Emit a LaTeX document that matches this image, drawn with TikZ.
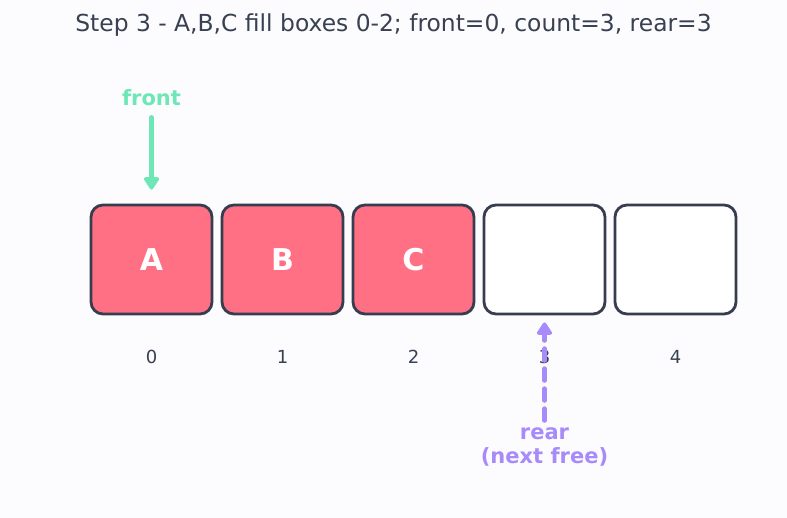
\documentclass[tikz,border=0pt]{standalone}
\usepackage{fontspec}
\setmainfont{DejaVu Sans}
\usetikzlibrary{arrows.meta}

\definecolor{bgc}{HTML}{FCFBFE}
\definecolor{inkc}{HTML}{374151}
\definecolor{edgec}{HTML}{363D4F}
\definecolor{fullc}{HTML}{FF7084}
\definecolor{frontc}{HTML}{6EE7B7}
\definecolor{rearc}{HTML}{A78BFA}

\begin{document}
\begin{tikzpicture}[x=1pt,y=-1pt]

\tikzstyle{slot}=[draw=edgec,line width=2.8pt,rounded corners=12pt,minimum width=121pt,minimum height=109pt,inner sep=0pt]
\tikzstyle{full}=[slot,fill=fullc,text=white,font=\fontsize{30}{32}\bfseries]
\tikzstyle{empty}=[slot,fill=white]
\tikzstyle{idx}=[text=inkc,font=\fontsize{18}{20}\selectfont]
\tikzstyle{ptr}=[font=\fontsize{21}{24}\bfseries,align=center,inner sep=1pt]
\tikzstyle{tip}=[-{Triangle[length=14pt,width=17pt,round]}]

\fill[bgc] (0,0) rectangle (787,518);
\useasboundingbox (0,0) rectangle (787,518);

\node[text=inkc,font=\fontsize{23.4}{26}\selectfont] (title) at (393.5,25) {Step 3 - A,B,C fill boxes 0-2; front=0, count=3, rear=3};

\node[full] (b0) at (151.5,259.5) {A};
\node[full] (b1) at (282.5,259.5) {B};
\node[full] (b2) at (413.5,259.5) {C};
\node[empty] (b3) at (544.5,259.5) {};
\node[empty] (b4) at (675.5,259.5) {};

\node[idx] (i0) at (151.5,357) {0};
\node[idx] (i1) at (282.5,357) {1};
\node[idx] (i2) at (413.5,357) {2};
\node[idx] (i3) at (544.5,357) {3};
\node[idx] (i4) at (675.5,357) {4};

\node[ptr,text=frontc] (front) at (151.5,98) {front};
\node[ptr,text=rearc] (rear) at (544.5,447) {rear\\(next free)};

\draw[frontc,line width=4.5pt,tip,line cap=round,shorten >=14pt,shorten <=10pt] (front) -- (b0);
\draw[rearc,line width=4.5pt,dash pattern=on 12pt off 8pt,line cap=round,tip,shorten >=7pt,shorten <=6pt] (rear) -- (b3);

\end{tikzpicture}
\end{document}
